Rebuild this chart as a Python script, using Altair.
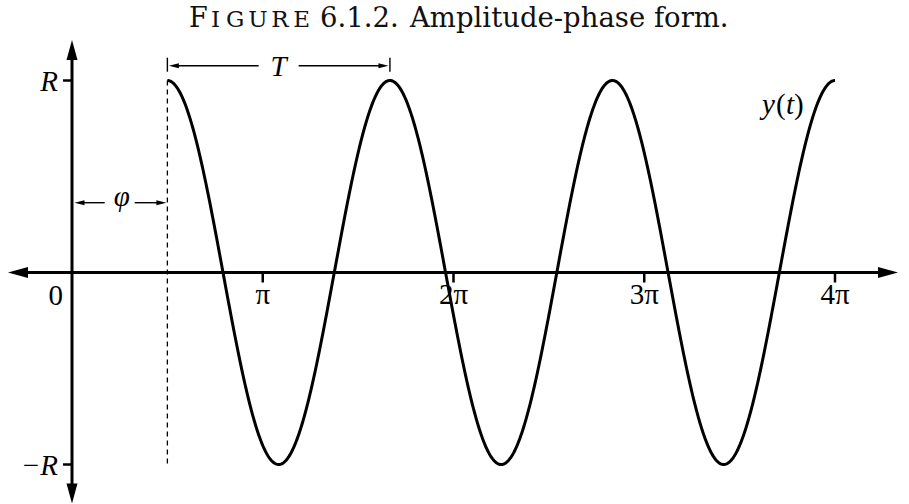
import numpy as np
import pandas as pd
import altair as alt

# y(t) = R cos(omega (t - phi)), drawn from t = phi to t = 4*pi
R = 1.0
PHI = np.pi / 2
PERIOD = 7 * np.pi / 6
OMEGA = 2 * np.pi / PERIOD
T_END = 4 * np.pi

tick_multiples = [1, 2, 3, 4]
tick_labels = ["π", "2π", "3π", "4π"]

# canvas and scale layout (origin of the axes inside the canvas)
W, H = 909, 504
ORIGIN_X, ORIGIN_Y = 72.0, 272.5
PX_PER_PI = 190.75
PX_PER_R = 192.0


def px_t(n):
    """horizontal pixel length -> t units"""
    return n / PX_PER_PI * np.pi


def px_y(n):
    """vertical pixel length -> y units"""
    return n / PX_PER_R * R


XS = alt.Scale(domain=[px_t(-ORIGIN_X), px_t(W - ORIGIN_X)], nice=False, zero=False)
YS = alt.Scale(domain=[-px_y(H - ORIGIN_Y), px_y(ORIGIN_Y)], nice=False, zero=False)


def X(f):
    return alt.X(f, type="quantitative", scale=XS, axis=None)


def Y(f):
    return alt.Y(f, type="quantitative", scale=YS, axis=None)


def X2(f):
    return alt.X2(f)


def Y2(f):
    return alt.Y2(f)


INK = "#000000"
SERIF = "Liberation Serif, Times New Roman, Times, serif"

# ---- curve ----
t = np.linspace(PHI, T_END, 900)
curve = pd.DataFrame({"t": t, "y": R * np.cos(OMEGA * (t - PHI))})
curve_layer = alt.Chart(curve).mark_line(color=INK, strokeWidth=3).encode(
    x=X("t"), y=Y("y"), order="t:Q"
)

# ---- coordinate axes with arrowheads ----
X_LEFT, X_RIGHT = px_t(-64), px_t(826)
Y_TOP, Y_BOTTOM = px_y(232.5), -px_y(231)
HEAD = 20  # arrowhead length in px

axes = pd.DataFrame(
    {
        "x": [X_LEFT + px_t(HEAD - 4), 0.0],
        "x2": [X_RIGHT - px_t(HEAD - 4), 0.0],
        "y": [0.0, Y_TOP - px_y(HEAD - 4)],
        "y2": [0.0, Y_BOTTOM + px_y(HEAD - 4)],
    }
)
axes_layer = alt.Chart(axes).mark_rule(color=INK, strokeWidth=3).encode(
    x=X("x"), x2=X2("x2"), y=Y("y"), y2=Y2("y2")
)

big_heads = pd.DataFrame(
    {
        "x": [X_LEFT, X_RIGHT, 0.0, 0.0],
        "y": [0.0, 0.0, Y_TOP, Y_BOTTOM],
        "angle": [270, 90, 0, 180],
    }
)
ARROW_PATH = "M0,0L0.55,2L-0.55,2Z"
big_head_layer = alt.Chart(big_heads).mark_point(
    shape=ARROW_PATH, size=HEAD ** 2, filled=True,
    color=INK, opacity=1, strokeWidth=0
).encode(x=X("x"), y=Y("y"), angle=alt.Angle("angle:Q", scale=None))

# ---- ticks ----
rt = pd.DataFrame({"x": [0.0, 0.0], "y": [R, -R]})
r_tick_layer = alt.Chart(rt).mark_rule(color=INK, strokeWidth=2.5, xOffset=-9).encode(
    x=X("x"), x2=X2("x"), y=Y("y")
)

xt = pd.DataFrame({"x": [k * np.pi for k in tick_multiples], "y": [0.0] * 4,
                   "label": tick_labels})
x_tick_layer = alt.Chart(xt).mark_rule(color=INK, strokeWidth=2.5, y2Offset=10).encode(
    x=X("x"), y=Y("y"), y2=Y2("y")
)
x_label_layer = alt.Chart(xt).mark_text(
    font=SERIF, fontSize=29, align="center", baseline="alphabetic", dy=31, color=INK
).encode(x=X("x"), y=Y("y"), text="label:N")

# ---- phase marker (dashed) ----
dash = pd.DataFrame({"x": [PHI], "y": [R], "y2": [-R]})
dash_layer = alt.Chart(dash).mark_rule(color=INK, strokeWidth=1.3, strokeDash=[5, 4]).encode(
    x=X("x"), y=Y("y"), y2=Y2("y2")
)

# ---- dimension arrows for T and phi ----
T_Y = px_y(ORIGIN_Y - 65.7)
PHI_Y = px_y(ORIGIN_Y - 202.7)
T_MID = PHI + PERIOD / 2
PHI_MID = PHI / 2

dims = pd.DataFrame(
    {
        "x": [PHI + px_t(6), T_MID + px_t(20), px_t(8), PHI_MID + px_t(15)],
        "x2": [T_MID - px_t(20), PHI + PERIOD - px_t(6), PHI_MID - px_t(15), PHI - px_t(6)],
        "y": [T_Y, T_Y, PHI_Y, PHI_Y],
    }
)
dim_layer = alt.Chart(dims).mark_rule(color=INK, strokeWidth=1.4).encode(
    x=X("x"), x2=X2("x2"), y=Y("y")
)

small_heads = pd.DataFrame(
    {
        "x": [PHI + px_t(1.5), PHI + PERIOD - px_t(1.5), px_t(2.5), PHI - px_t(1)],
        "y": [T_Y, T_Y, PHI_Y, PHI_Y],
        "angle": [270, 90, 270, 90],
    }
)
small_head_layer = alt.Chart(small_heads).mark_point(
    shape="M0,0L0.5,2L-0.5,2Z", size=100, filled=True, color=INK, opacity=1, strokeWidth=0
).encode(x=X("x"), y=Y("y"), angle=alt.Angle("angle:Q", scale=None))

bars = pd.DataFrame({"x": [PHI, PHI + PERIOD], "y": [T_Y, T_Y]})
bar_layer = alt.Chart(bars).mark_rule(
    color=INK, strokeWidth=1.4, yOffset=-8, y2Offset=6
).encode(x=X("x"), y=Y("y"), y2=Y2("y"))


# ---- text labels ----
def label(text, x, y, italic=False, size=29, align="center", dx=0, dy=0):
    df = pd.DataFrame({"x": [x], "y": [y], "s": [text]})
    return alt.Chart(df).mark_text(
        font=SERIF, fontSize=size, fontStyle="italic" if italic else "normal",
        align=align, baseline="alphabetic", dx=dx, dy=dy, color=INK
    ).encode(x=X("x"), y=Y("y"), text="s:N")


labels = [
    label("0", 0.0, 0.0, align="right", dx=-9, dy=32.5),
    label("R", 0.0, R, italic=True, align="right", dx=-14, dy=10),
    label("\u2212R", 0.0, -R, italic=True, align="right", dx=-14, dy=10),
    label("T", T_MID, T_Y, italic=True, dy=10),
    label("\u03c6", PHI_MID + px_t(2), PHI_Y, italic=True, dy=3),
]

# y(t) label next to the last rising branch
YT_T, YT_Y = px_t(762 - ORIGIN_X), px_y(ORIGIN_Y - 114)
labels += [
    label("y", YT_T, YT_Y, italic=True, align="left", dx=0),
    label("(", YT_T, YT_Y, align="left", dx=14),
    label("t", YT_T, YT_Y, italic=True, align="left", dx=24),
    label(")", YT_T, YT_Y, align="left", dx=32),
]

# ---- caption, "Figure" set in small caps ----
one = pd.DataFrame({"k": [0]})
TITLE_FONT = "DejaVu Serif"
CAP_BASE = 27


def caption(text, left, size):
    return alt.Chart(one).mark_text(
        text=text, font=TITLE_FONT, fontSize=size, align="left", baseline="alphabetic",
        color="#111111"
    ).encode(x=alt.value(left), y=alt.value(CAP_BASE))


# small-cap letters laid out one by one with a little tracking
SC_SIZE = 23
SC_ADVANCE = {"I": 0.47, "G": 0.775, "U": 0.81, "R": 0.77, "E": 0.73}
SC_TRACK = 4.3
captions = [caption("F", 189, 27)]
pos = 211.0
for ch in "IGURE":
    captions.append(caption(ch, pos, SC_SIZE))
    pos += SC_ADVANCE[ch] * SC_SIZE + SC_TRACK
captions += [
    caption("6.1.2.", 320, 27.5),
    caption("Amplitude-phase form.", 410, 27.5),
]

chart = alt.layer(
    dash_layer, axes_layer, big_head_layer, r_tick_layer, x_tick_layer,
    dim_layer, small_head_layer, bar_layer, curve_layer, x_label_layer,
    *labels, *captions
).properties(
    width=W, height=H, padding=0, autosize=alt.AutoSizeParams(type="none"),
    background="white"
).configure_view(stroke=None)

chart.save("out.html", embed_options={"renderer": "svg", "actions": False})
